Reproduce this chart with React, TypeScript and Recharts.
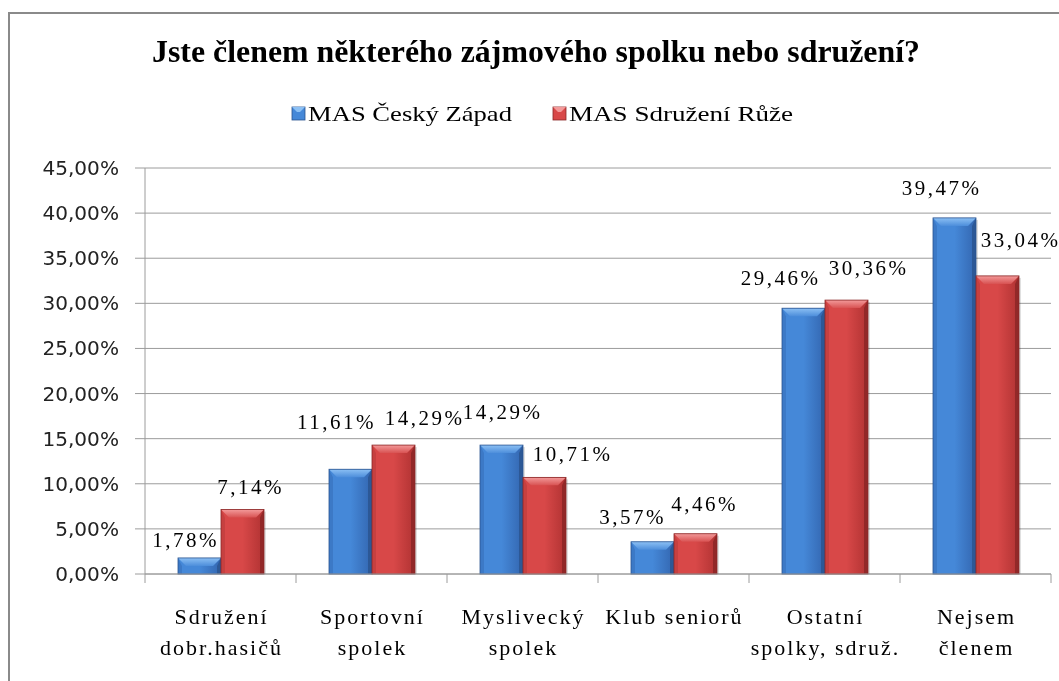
import React from 'react';
import { BarChart, Bar, XAxis, YAxis, CartesianGrid, LabelList } from 'recharts';

// ---------- data ----------
const categories = [
  'Sdružení\ndobr.hasičů',
  'Sportovní\nspolek',
  'Myslivecký\nspolek',
  'Klub seniorů',
  'Ostatní\nspolky, sdruž.',
  'Nejsem\nčlenem',
];
const ceskyZapad = [1.78, 11.61, 14.29, 3.57, 29.46, 39.47];
const sdruzeniRuze = [7.14, 14.29, 10.71, 4.46, 30.36, 33.04];
const seriesNames = ['MAS Český Západ', 'MAS Sdružení Růže'];
const yTicks = [0, 5, 10, 15, 20, 25, 30, 35, 40, 45];
const titleText = 'Jste členem některého zájmového spolku nebo sdružení?';

// ---------- layout (label nudges, as placed in the original) ----------
const blueNudge: [number, number][] = [[-15, -18], [-15, -47], [0, -33], [-21, -25], [-24, -30], [-14, -30]];
const redNudge: [number, number][] = [[7, -23], [30, -27], [27, -23], [8, -30], [21, -32], [22, -36]];

const rows = categories.map((c, i) => ({ cat: c, a: ceskyZapad[i], b: sdruzeniRuze[i] }));

const fmt = (v: number) => v.toFixed(2).replace('.', ',') + '%';

const SERIF = '"Liberation Serif", "Times New Roman", serif';
const SANS = '"DejaVu Sans", sans-serif';
const GRID = '#9c9c9c';

// approximate advance widths (px) of the tick font, for fitting text width
const glyphW = (ch: string) => (ch === ',' ? 6.4 : ch === '%' ? 19 : 12.8);

type Pal = {
  key: string; bodyL: string; bodyR: string; top1: string; top2: string;
  edgeL: string; edgeR: string; stroke: string;
};
const bluePal: Pal = {
  key: 'blue', bodyL: '#4588d8', bodyR: '#3366b0', top1: '#8cc0f4', top2: '#4d8edb',
  edgeL: '#3c79c6', edgeR: '#2c5896', stroke: '#2a5490',
};
const redPal: Pal = {
  key: 'red', bodyL: '#d84848', bodyR: '#b03232', top1: '#f39a9a', top2: '#d85252',
  edgeL: '#c64040', edgeR: '#922828', stroke: '#8a2626',
};

const makeBevelBar = (pal: Pal) => (props: any) => {
  const { x, y, width: w, height: h, index } = props;
  if (!h || h <= 0) return <g />;
  const b = Math.min(8, h / 2, w / 4);
  const e = Math.min(4, w / 8);
  const id = `${pal.key}-${index}`;
  return (
    <g>
      <defs>
        <linearGradient id={`${id}-body`} x1="0" y1="0" x2="1" y2="0">
          <stop offset="0" stopColor={pal.bodyL} />
          <stop offset="0.5" stopColor={pal.bodyL} />
          <stop offset="1" stopColor={pal.bodyR} />
        </linearGradient>
        <linearGradient id={`${id}-top`} x1="0" y1="0" x2="0" y2="1">
          <stop offset="0" stopColor={pal.top1} />
          <stop offset="1" stopColor={pal.top2} />
        </linearGradient>
      </defs>
      <rect x={x + 2} y={y + 2} width={w} height={h - 2} fill="#000" opacity={0.12} />
      <rect x={x} y={y} width={w} height={h} fill={`url(#${id}-body)`} />
      <polygon points={`${x},${y} ${x + e},${y + b} ${x + e},${y + h} ${x},${y + h}`} fill={pal.edgeL} />
      <polygon points={`${x + w},${y} ${x + w - e},${y + b} ${x + w - e},${y + h} ${x + w},${y + h}`} fill={pal.edgeR} />
      <polygon points={`${x},${y} ${x + w},${y} ${x + w - b},${y + b} ${x + b},${y + b}`} fill={`url(#${id}-top)`} />
      <rect x={x} y={y} width={w} height={h} fill="none" stroke={pal.stroke} strokeWidth={0.8} />
    </g>
  );
};

const makeLabel = (nudge: [number, number][]) => (props: any) => {
  const { x, y, width, value, index } = props;
  const [dx, dy] = nudge[index] || [0, -25];
  return (
    <text
      x={x + width / 2 + dx + 1}
      y={y + dy}
      textAnchor="middle"
      dominantBaseline="central"
      fontFamily={SERIF}
      fontSize={21}
      letterSpacing={2.5}
      fill="#000"
    >
      {fmt(Number(value))}
    </text>
  );
};

const CatTick = (props: any) => {
  const { x, y, payload, index } = props;
  const half = payload && typeof payload.offset === 'number' && payload.offset > 0 ? payload.offset : 75.5;
  const lines = String(payload.value).split('\n');
  return (
    <g>
      <line x1={x - half} x2={x - half} y1={y} y2={y + 9} stroke={GRID} />
      {index === categories.length - 1 && <line x1={x + half} x2={x + half} y1={y} y2={y + 9} stroke={GRID} />}
      <text textAnchor="middle" fontFamily={SERIF} fontSize={22} letterSpacing={2} fill="#000">
        {lines.map((l, i) => (
          <tspan key={i} x={x + 1} y={y + 50 + i * 31}>{l}</tspan>
        ))}
      </text>
    </g>
  );
};

const ValTick = (props: any) => {
  const { x, y, payload } = props;
  const s = fmt(Number(payload.value));
  const len = s.split('').reduce((acc, ch) => acc + glyphW(ch), 0);
  return (
    <text
      x={x}
      y={y}
      textAnchor="end"
      dominantBaseline="central"
      fontFamily={SANS}
      fontSize={20}
      textLength={len}
      lengthAdjust="spacingAndGlyphs"
      fill="#222"
    >
      {s}
    </text>
  );
};

export default function App() {
  return (
    <div>
      <div
        style={{
          position: 'fixed', left: 8, top: 12, width: 1051, height: 669,
          borderLeft: '2px solid #8a8a8a', borderTop: '2px solid #8a8a8a', boxSizing: 'border-box',
        }}
      />
      <svg style={{ position: 'fixed', left: 0, top: 0 }} width={1059} height={150}>
        <text x={536} y={62} textAnchor="middle" fontFamily={SERIF} fontWeight="bold" fontSize={31}
          textLength={768} lengthAdjust="spacingAndGlyphs" fill="#000">{titleText}</text>
        <rect x={292} y={107} width={13} height={13} fill={bluePal.bodyL} stroke={bluePal.stroke} strokeWidth={0.8} />
        <polygon points="292,107 305,107 300,112 297,112" fill={bluePal.top1} />
        <text x={308} y={121} fontFamily={SERIF} fontSize={21} textLength={204} lengthAdjust="spacingAndGlyphs" fill="#000">{seriesNames[0]}</text>
        <rect x={553} y={107} width={13} height={13} fill={redPal.bodyL} stroke={redPal.stroke} strokeWidth={0.8} />
        <polygon points="553,107 566,107 561,112 558,112" fill={redPal.top1} />
        <text x={569} y={121} fontFamily={SERIF} fontSize={21} textLength={224} lengthAdjust="spacingAndGlyphs" fill="#000">{seriesNames[1]}</text>
      </svg>
      <div style={{ position: 'fixed', left: 0, top: 0 }}>
        <BarChart
          width={1059}
          height={681}
          data={rows}
          margin={{ top: 168, right: 8, bottom: 7, left: 0 }}
          barSize={43}
          barGap={0}
        >
          <CartesianGrid vertical={false} stroke={GRID} strokeWidth={1} />
          <XAxis
            dataKey="cat"
            height={100}
            tickLine={false}
            tickSize={0}
            tickMargin={0}
            axisLine={{ stroke: GRID }}
            interval={0}
            tick={<CatTick />}
          />
          <YAxis
            width={145}
            domain={[0, 45]}
            ticks={yTicks}
            interval={0}
            tickSize={10}
            tickMargin={16}
            tickLine={{ stroke: GRID }}
            axisLine={{ stroke: GRID }}
            tick={<ValTick />}
          />
          <Bar dataKey="a" name={seriesNames[0]} isAnimationActive={false} shape={makeBevelBar(bluePal)}>
            <LabelList dataKey="a" content={makeLabel(blueNudge)} />
          </Bar>
          <Bar dataKey="b" name={seriesNames[1]} isAnimationActive={false} shape={makeBevelBar(redPal)}>
            <LabelList dataKey="b" content={makeLabel(redNudge)} />
          </Bar>
        </BarChart>
      </div>
    </div>
  );
}
